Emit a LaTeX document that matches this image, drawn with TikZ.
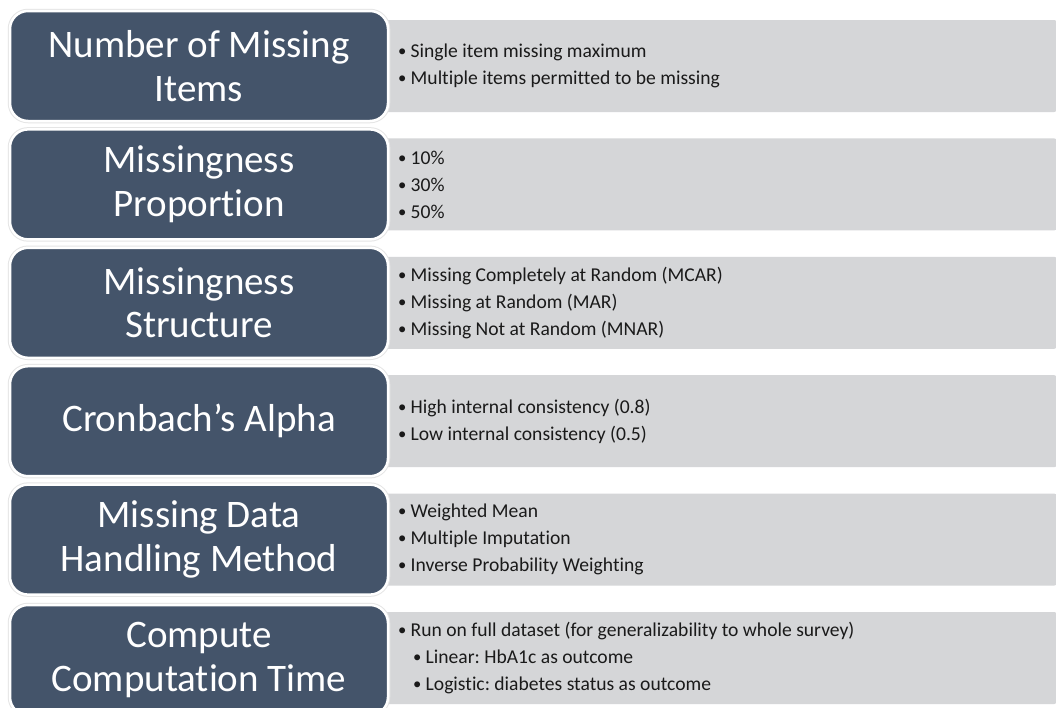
\documentclass[tikz,border=0pt]{standalone}
\usepackage{fontspec}
\setmainfont{Carlito}[Ligatures={NoCommon}]
\frenchspacing
\definecolor{catblue}{HTML}{44546A}
\definecolor{panelgray}{HTML}{D5D6D8}
\definecolor{itemtext}{HTML}{1A1A1A}
\newcommand{\bul}{\makebox[12.5pt][l]{\raisebox{1pt}{\scalebox{0.85}{\textbullet}}}}
\begin{document}
\begin{tikzpicture}[x=1pt,y=-1pt,
  cat/.style={fill=catblue, draw=white, line width=2.5pt, rounded corners=18pt,
    minimum width=378pt, minimum height=110pt, text=white, align=center,
    font=\fontsize{39}{43.5}\selectfont, inner sep=0pt,
    preaction={draw=black!10, line width=4.5pt}},
  panel/.style={fill=panelgray, draw=none, rounded corners=3pt, anchor=west,
    minimum width=677pt, minimum height=92pt, inner sep=0pt},
  items/.style={anchor=west, align=left, inner sep=0pt, text=itemtext,
    font=\fontsize{19.6}{27}\selectfont}
]
\useasboundingbox[fill=white] (0,0) rectangle (1056,707);

% panels
\node[panel] (p1) at (380,66) {};
\node[panel] (p2) at (380,184.4) {};
\node[panel] (p3) at (380,302.8) {};
\node[panel] (p4) at (380,421.2) {};
\node[panel] (p5) at (380,539.6) {};
\node[panel] (p6) at (380,658) {};

% category boxes
\node[cat] (c1) at (199,66) {Number of Missing\\Items};
\node[cat] (c2) at (199,184.4) {Missingness\\Proportion};
\node[cat] (c3) at (199,302.8) {Missingness\\Structure};
\node[cat] (c4) at (199,421.2) {Cronbach’s Alpha};
\node[cat] (c5) at (199,539.6) {Missing Data\\Handling Method};
\node[cat] (c6) at (199,660) {Compute\\Computation Time};

% items
\node[items] (t1) at (398,66) {\bul Single item missing maximum\\\bul Multiple items permitted to be missing};
\node[items] (t2) at (398,184.4) {\bul 10\%\\\bul 30\%\\\bul 50\%};
\node[items] (t3) at (398,302.8) {\bul Missing Completely at Random (MCAR)\\\bul Missing at Random (MAR)\\\bul Missing Not at Random (MNAR)};
\node[items] (t4) at (398,421.2) {\bul High internal consistency (0.8)\\\bul Low internal consistency (0.5)};
\node[items] (t5) at (398,539.6) {\bul Weighted Mean\\\bul Multiple Imputation\\\bul Inverse Probability Weighting};
\node[items] (t6) at (398,658) {\bul Run on full dataset (for generalizability to whole survey)\\\hspace*{15pt}\bul Linear: HbA1c as outcome\\\hspace*{15pt}\bul Logistic: diabetes status as outcome};
\end{tikzpicture}
\end{document}
